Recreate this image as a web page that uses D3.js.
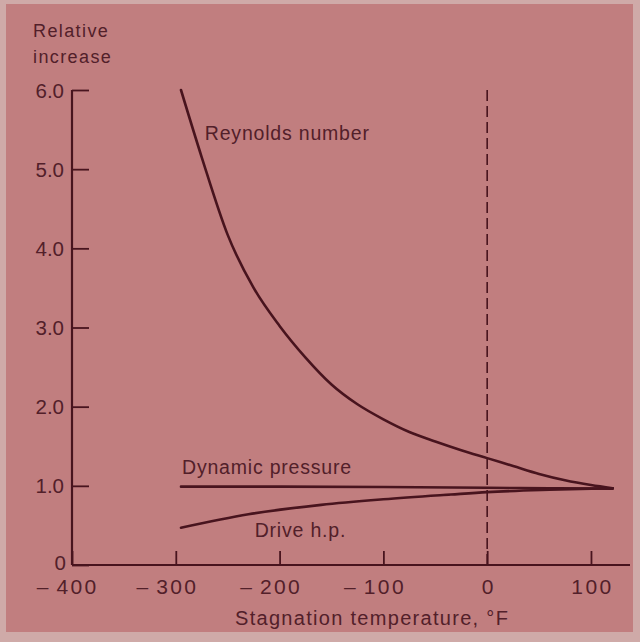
<!DOCTYPE html>
<html><head><meta charset="utf-8">
<script src="https://cdn.jsdelivr.net/npm/d3@7"></script>
<style>html,body{margin:0;padding:0;background:#cfaaa8;}svg{display:block;}</style>
</head><body>
<script>
// ---- data ----
const reynoldsTemp  = [-295, -275, -250, -225, -200, -175, -150, -125, -100, -75, -50, -25, 0, 25, 50, 75, 100, 121];
const reynoldsValue = [6.0, 5.15, 4.17, 3.50, 3.02, 2.62, 2.28, 2.03, 1.84, 1.68, 1.56, 1.45, 1.35, 1.25, 1.15, 1.07, 1.01, 0.97];
const dynamicTemp   = [-295, -200, -100, 0, 60, 121];
const dynamicValue  = [0.99, 0.99, 0.985, 0.975, 0.97, 0.965];
const driveTemp     = [-295, -230, -160, -100, -35, 0, 60, 121];
const driveValue    = [0.47, 0.64, 0.76, 0.83, 0.89, 0.92, 0.95, 0.97];
const xTicks = [-400, -300, -200, -100, 0, 100];
const yTicks = [0, 1, 2, 3, 4, 5, 6];
const yTickLabels = ["0", "1.0", "2.0", "3.0", "4.0", "5.0", "6.0"];
const refLineTemp = 0;

const W = 640, H = 642;
const ink = "#48141e", textInk = "#52202a";
const font = "'Liberation Sans', Arial, sans-serif";

const svg = d3.select("body").append("svg").attr("width", W).attr("height", H);
svg.append("rect").attr("x", 0).attr("y", 0).attr("width", W).attr("height", H).attr("fill", "#cfaaa8");
svg.append("rect").attr("x", 6).attr("y", 4).attr("width", 627).attr("height", 628).attr("fill", "#c17e7f");

const x = d3.scaleLinear().domain([-400, 137.6]).range([72, 630]);
const y = d3.scaleLinear().domain([0, 6]).range([565, 90]);

// y axis
const yAxis = d3.axisRight(y).tickValues(yTicks).tickSize(17).tickFormat(() => "");
const gy = svg.append("g").attr("transform", `translate(${x(-400)},0)`).call(yAxis);
gy.select(".domain").attr("d", `M0,${y(6)}V${y(0)}`).attr("stroke", ink).attr("stroke-width", 2.2);
gy.selectAll(".tick line").attr("stroke", ink).attr("stroke-width", 1.8);
gy.selectAll(".tick").append("text")
  .attr("x", d => d === 0 ? -6 : -8).attr("y", d => d === 0 ? 4 : 7).attr("text-anchor", "end")
  .attr("fill", textInk).attr("font-family", font).attr("font-size", 20.5)
  .text(d => yTickLabels[yTicks.indexOf(d)]);

// x axis
const xAxis = d3.axisTop(x).tickValues(xTicks).tickSize(14).tickFormat(() => "");
const gx = svg.append("g").attr("transform", `translate(0,${y(0)})`).call(xAxis);
gx.select(".domain").attr("d", `M${x(-400)},0H${x(137.6)}`).attr("stroke", ink).attr("stroke-width", 2.2);
gx.selectAll(".tick line").attr("stroke", ink).attr("stroke-width", 1.8);
gx.selectAll(".tick").each(function(d) {
  const g = d3.select(this);
  const cx = d === -400 ? 5 : 1;
  const t = g.append("text").attr("x", cx).attr("y", 29).attr("text-anchor", "middle")
    .attr("fill", textInk).attr("font-family", font).attr("font-size", 21)
    .attr("letter-spacing", 2.4)
    .text(Math.abs(d));
  if (d < 0) {
    const w = t.node().getComputedTextLength();
    g.append("text").attr("x", cx - w / 2 - 8).attr("y", 29).attr("text-anchor", "end")
      .attr("fill", textInk).attr("font-family", font).attr("font-size", 21).text("\u2013");
  }
});

// axis titles
svg.append("text").attr("x", 33).attr("y", 37).attr("fill", textInk)
  .attr("font-family", font).attr("font-size", 18).attr("letter-spacing", 1.4).text("Relative");
svg.append("text").attr("x", 33).attr("y", 63).attr("fill", textInk)
  .attr("font-family", font).attr("font-size", 18).attr("letter-spacing", 1.4).text("increase");
svg.append("text").attr("x", 235).attr("y", 625).attr("fill", textInk)
  .attr("font-family", font).attr("font-size", 20).attr("letter-spacing", 1.3)
  .text("Stagnation temperature, \u00b0F");

// dashed reference line
svg.append("line").attr("x1", x(refLineTemp)).attr("x2", x(refLineTemp))
  .attr("y1", y(6)).attr("y2", y(0))
  .attr("stroke", ink).attr("stroke-width", 1.6).attr("stroke-dasharray", "11,5");

// curves
const line = d3.line().x(d => x(d[0])).y(d => y(d[1])).curve(d3.curveMonotoneX);
const series = [
  [reynoldsTemp, reynoldsValue],
  [dynamicTemp, dynamicValue],
  [driveTemp, driveValue]
];
series.forEach(([t, v]) => {
  svg.append("path").datum(t.map((d, i) => [d, v[i]]))
    .attr("d", line).attr("fill", "none").attr("stroke", ink).attr("stroke-width", 2.6)
    .attr("stroke-linecap", "round");
});

// curve labels (placed in data space)
const lbl = (txt, tx, vy) => svg.append("text").attr("x", x(tx)).attr("y", y(vy))
  .attr("fill", textInk).attr("font-family", font).attr("font-size", 19.5)
  .attr("letter-spacing", 0.8).text(txt);
lbl("Reynolds number", -272, 5.37);
lbl("Dynamic pressure", -294, 1.15);
lbl("Drive h.p.", -224, 0.354);
</script>
</body></html>
